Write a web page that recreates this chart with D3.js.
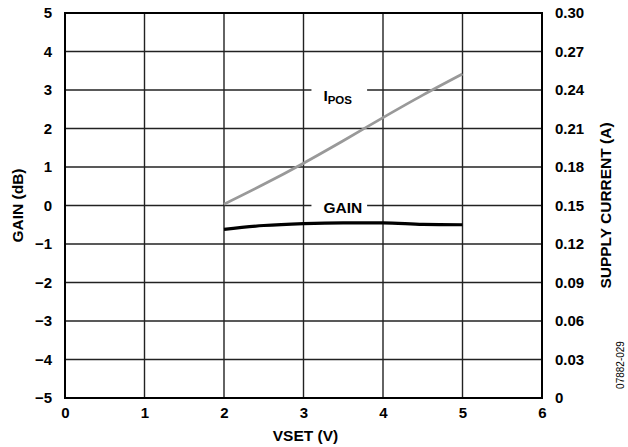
<!DOCTYPE html>
<html>
<head>
<meta charset="utf-8">
<script src="https://cdn.jsdelivr.net/npm/d3@7"></script>
<style>
  body { margin: 0; background: #fff; }
  text { font-family: "Liberation Sans", Arial, sans-serif; }
</style>
</head>
<body>
<div id="chart-area"></div>
<script>
// data
var vset = [2, 2.5, 3, 3.5, 4, 4.5, 5];
var gainDb = [-0.62, -0.52, -0.47, -0.45, -0.45, -0.49, -0.5];
var iposA = [0.151, 0.1665, 0.183, 0.2005, 0.2185, 0.236, 0.2525];

var xTicks = [0, 1, 2, 3, 4, 5, 6];
var yTicks = [-5, -4, -3, -2, -1, 0, 1, 2, 3, 4, 5];
var y2Ticks = [0, 0.03, 0.06, 0.09, 0.12, 0.15, 0.18, 0.21, 0.24, 0.27, 0.30];

var margin = {left: 65, right: 86, top: 13, bottom: 49};
var width = 628 - margin.left - margin.right,
	height = 447 - margin.top - margin.bottom;

var svg = d3.select("#chart-area")
	.append("svg")
		.attr("width", 628)
		.attr("height", 447);

var canvas = svg.append("g")
	.attr("transform", "translate(" + margin.left + ", " + margin.top + ")");

//scales
var x = d3.scaleLinear().domain([0, 6]).range([0, width]);
var y = d3.scaleLinear().domain([-5, 5]).range([height, 0]);
var y2 = d3.scaleLinear().domain([0, 0.30]).range([height, 0]);

//grid
canvas.selectAll(".vgrid")
	.data(xTicks)
	.enter().append("line")
		.attr("x1", function(d){ return x(d); })
		.attr("x2", function(d){ return x(d); })
		.attr("y1", 0)
		.attr("y2", height)
		.attr("stroke", "#222")
		.attr("stroke-width", 1.4);

canvas.selectAll(".hgrid")
	.data(yTicks)
	.enter().append("line")
		.attr("x1", 0)
		.attr("x2", width)
		.attr("y1", function(d){ return y(d); })
		.attr("y2", function(d){ return y(d); })
		.attr("stroke", "#222")
		.attr("stroke-width", 1.4);

//frame
canvas.append("rect")
	.attr("width", width)
	.attr("height", height)
	.attr("fill", "none")
	.attr("stroke", "#000")
	.attr("stroke-width", 2);

//axes (labels only)
var xAxisCall = d3.axisBottom(x).tickValues(xTicks).tickSize(0).tickPadding(9)
	.tickFormat(d3.format("d"));
var yAxisCall = d3.axisLeft(y).tickValues(yTicks).tickSize(0).tickPadding(13)
	.tickFormat(function(d){ return d < 0 ? "\u2212" + Math.abs(d) : d; });
var y2AxisCall = d3.axisRight(y2).tickValues(y2Ticks).tickSize(0).tickPadding(13)
	.tickFormat(function(d){ return d === 0 ? "0" : d3.format(".2f")(d); });

canvas.append("g").attr("transform", "translate(0," + height + ")").call(xAxisCall);
canvas.append("g").call(yAxisCall);
canvas.append("g").attr("transform", "translate(" + width + ",0)").call(y2AxisCall);

canvas.selectAll(".domain").remove();
canvas.selectAll(".tick text")
	.attr("font-family", "'Liberation Sans', Arial, sans-serif")
	.attr("font-weight", "bold")
	.attr("font-size", "15px")
	.attr("fill", "#000");

//lines
var gainLine = d3.line()
	.x(function(d, i){ return x(vset[i]); })
	.y(function(d){ return y(d); })
	.curve(d3.curveMonotoneX);

var iposLine = d3.line()
	.x(function(d, i){ return x(vset[i]); })
	.y(function(d){ return y2(d); })
	.curve(d3.curveMonotoneX);

canvas.append("path")
	.datum(iposA)
	.attr("d", iposLine)
	.attr("fill", "none")
	.attr("stroke", "#999")
	.attr("stroke-width", 2.8);

canvas.append("path")
	.datum(gainDb)
	.attr("d", gainLine)
	.attr("fill", "none")
	.attr("stroke", "#000")
	.attr("stroke-width", 3.2);

//in-plot labels with white gaps over the gridlines
canvas.append("rect")
	.attr("x", x(3.1)).attr("y", y(3) - 3)
	.attr("width", x(3.8) - x(3.1)).attr("height", 6)
	.attr("fill", "#fff");
var iposLabel = canvas.append("text")
	.attr("x", x(3.25)).attr("y", y(3) + 11)
	.attr("font-weight", "bold")
	.attr("font-size", "15.5px");
iposLabel.append("tspan").text("I");
iposLabel.append("tspan").attr("dy", 3).attr("font-size", "11.5px").text("POS");

canvas.append("rect")
	.attr("x", x(3.1)).attr("y", y(0) - 8)
	.attr("width", x(3.8) - x(3.1)).attr("height", 16)
	.attr("fill", "#fff");
canvas.append("text")
	.attr("x", x(3.25)).attr("y", y(0) + 7)
	.attr("font-weight", "bold")
	.attr("font-size", "15.5px")
	.text("GAIN");

//axis titles
svg.append("text")
	.attr("x", margin.left + width / 2 + 2)
	.attr("y", 441)
	.attr("text-anchor", "middle")
	.attr("font-weight", "bold")
	.attr("font-size", "15.5px")
	.text("VSET (V)");

svg.append("text")
	.attr("transform", "translate(23," + (margin.top + height / 2) + ") rotate(-90)")
	.attr("text-anchor", "middle")
	.attr("font-weight", "bold")
	.attr("font-size", "15.5px")
	.text("GAIN (dB)");

svg.append("text")
	.attr("transform", "translate(611," + (margin.top + height / 2) + ") rotate(-90)")
	.attr("text-anchor", "middle")
	.attr("font-weight", "bold")
	.attr("font-size", "15.5px")
	.text("SUPPLY CURRENT (A)");

svg.append("text")
	.attr("transform", "translate(624,365) rotate(-90)")
	.attr("text-anchor", "middle")
	.attr("font-size", "10px")
	.text("07882-029");
</script>
</body>
</html>
